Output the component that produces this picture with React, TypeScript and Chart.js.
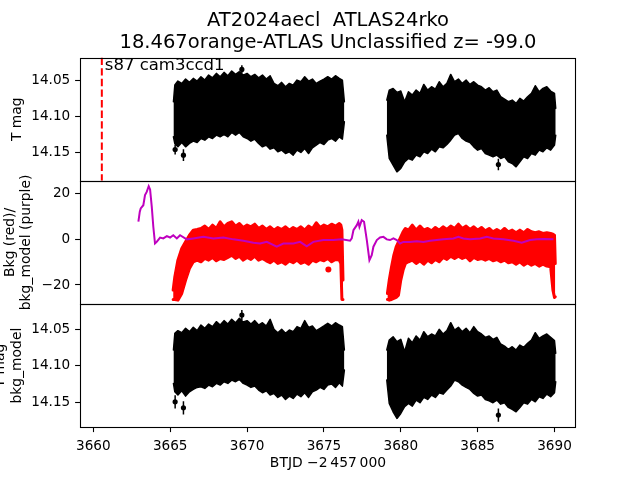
import React, { useEffect, useRef } from 'react';
import { Chart, registerables } from 'chart.js';

Chart.register(...registerables);

// ---------- text ----------
const TITLE_LINES = ['AT2024aecl  ATLAS24rko', '18.467orange-ATLAS Unclassified z= -99.0'];
const ANNOTATION = 's87 cam3ccd1';
const X_LABEL = 'BTJD \u22122\u2009457\u2009000';
const Y1_LABEL = 'T mag';
const Y2_LABEL = ['Bkg (red)/', 'bkg_model (purple)'];
const Y3_LABEL = ['T mag', 'bkg_model'];

// ---------- ticks / ranges ----------
const X_TICKS = [3660, 3665, 3670, 3675, 3680, 3685, 3690];
const MAG_TICKS = [14.05, 14.1, 14.15];
const BKG_TICKS = [20, 0, -20];
const X_RANGE = [3659.13, 3691.4];
const Y1_RANGE = [14.019, 14.189];
const Y2_RANGE = [-28.3, 25.45];
const Y3_RANGE = [14.0153, 14.184];
const SECTOR_START = 3660.55;

// ---------- time grids (BTJD) ----------
const T_ORBIT1 = [3665.21, 3665.3, 3665.5, 3665.75, 3666.0, 3666.25, 3666.5, 3666.75, 3667.0, 3667.25, 3667.5, 3667.75, 3668.0, 3668.25, 3668.5, 3668.75, 3669.0, 3669.25, 3669.5, 3669.75, 3670.0, 3670.25, 3670.5, 3670.75, 3671.0, 3671.25, 3671.5, 3671.75, 3672.0, 3672.25, 3672.5, 3672.75, 3673.0, 3673.25, 3673.5, 3673.75, 3674.0, 3674.25, 3674.5, 3674.75, 3675.0, 3675.25, 3675.5, 3675.75, 3676.0, 3676.2, 3676.33];
const T_ORBIT2 = [3679.09, 3679.25, 3679.5, 3679.75, 3680.0, 3680.25, 3680.5, 3680.75, 3681.0, 3681.25, 3681.5, 3681.75, 3682.0, 3682.25, 3682.5, 3682.75, 3683.0, 3683.25, 3683.5, 3683.75, 3684.0, 3684.25, 3684.5, 3684.75, 3685.0, 3685.25, 3685.5, 3685.75, 3686.0, 3686.25, 3686.5, 3686.75, 3687.0, 3687.25, 3687.5, 3687.75, 3688.0, 3688.25, 3688.5, 3688.75, 3689.0, 3689.25, 3689.5, 3689.75, 3690.0, 3690.08];

// ---------- panel 1: T mag envelope of the error-bar cloud ----------
const MAG1_TOP_O1 = [14.0799, 14.0569, 14.0514, 14.0546, 14.0486, 14.0532, 14.0477, 14.0514, 14.0454, 14.05, 14.0431, 14.0468, 14.0408, 14.0454, 14.0394, 14.044, 14.0376, 14.0422, 14.0385, 14.0431, 14.0408, 14.0454, 14.0422, 14.0468, 14.0431, 14.0486, 14.044, 14.0546, 14.0578, 14.0532, 14.0592, 14.0546, 14.0569, 14.05, 14.0523, 14.0454, 14.0514, 14.0486, 14.0546, 14.0514, 14.0486, 14.0454, 14.0486, 14.044, 14.0477, 14.05, 14.0799];
const MAG1_BOT_O1 = [14.1283, 14.1375, 14.1421, 14.1361, 14.1421, 14.1375, 14.1343, 14.1361, 14.1306, 14.1329, 14.1283, 14.1306, 14.126, 14.1283, 14.125, 14.1283, 14.1223, 14.126, 14.1223, 14.1283, 14.1306, 14.1343, 14.1315, 14.1375, 14.1421, 14.1398, 14.1453, 14.1435, 14.149, 14.1467, 14.1513, 14.149, 14.1536, 14.1467, 14.1499, 14.1444, 14.1513, 14.1435, 14.1398, 14.1361, 14.1389, 14.1329, 14.1306, 14.1343, 14.1283, 14.1315, 14.1076];
const MAG1_TOP_O2 = [14.0776, 14.0638, 14.0615, 14.067, 14.0652, 14.0799, 14.0661, 14.0707, 14.0638, 14.0684, 14.056, 14.0638, 14.0592, 14.0624, 14.0523, 14.0592, 14.0546, 14.0422, 14.0523, 14.0486, 14.0546, 14.05, 14.056, 14.0523, 14.0569, 14.0592, 14.0638, 14.0606, 14.0661, 14.0638, 14.073, 14.0762, 14.0799, 14.0776, 14.0822, 14.0753, 14.079, 14.073, 14.0684, 14.0578, 14.0661, 14.0615, 14.0592, 14.0652, 14.0684, 14.0891];
const MAG1_BOT_O2 = [14.126, 14.1582, 14.1674, 14.1766, 14.172, 14.1628, 14.1582, 14.1605, 14.1536, 14.1559, 14.149, 14.1513, 14.1453, 14.149, 14.1421, 14.1435, 14.1389, 14.1329, 14.126, 14.1237, 14.1306, 14.1343, 14.1361, 14.1421, 14.1467, 14.1444, 14.1513, 14.1536, 14.1559, 14.1536, 14.1582, 14.1559, 14.1628, 14.1651, 14.1697, 14.1628, 14.1559, 14.1582, 14.1513, 14.1536, 14.1467, 14.149, 14.1435, 14.1467, 14.1398, 14.126];
const OUT1_T = [3665.32, 3665.86, 3669.66, 3686.35];
const OUT1_MAG = [14.1458, 14.1536, 14.0353, 14.1665];
const OUT1_ERR = [0.0069, 0.008, 0.0058, 0.008];

// ---------- panel 2: background (red) and background model (purple) ----------
const T_BKG1 = [3665.19, 3665.3, 3665.5, 3665.75, 3666.0, 3666.25, 3666.5, 3666.75, 3667.0, 3667.25, 3667.5, 3667.75, 3668.0, 3668.25, 3668.5, 3668.75, 3669.0, 3669.25, 3669.5, 3669.75, 3670.0, 3670.25, 3670.5, 3670.75, 3671.0, 3671.25, 3671.5, 3671.75, 3672.0, 3672.25, 3672.5, 3672.75, 3673.0, 3673.25, 3673.5, 3673.75, 3674.0, 3674.25, 3674.5, 3674.75, 3675.0, 3675.25, 3675.5, 3675.75, 3676.0, 3676.1, 3676.17, 3676.24];
const BKG_TOP_O1 = [-22.25, -16.43, -9.16, -4.07, -1.16, 1.74, 3.93, 4.22, 4.65, 5.67, 4.22, 6.11, 4.65, 7.56, 5.38, 6.83, 7.56, 5.67, 6.83, 5.09, 6.11, 5.38, 6.54, 4.65, 5.67, 4.22, 5.38, 3.93, 5.09, 4.22, 5.38, 3.93, 5.09, 4.22, 5.38, 3.93, 5.67, 4.65, 7.12, 5.09, 6.11, 5.38, 6.54, 5.67, 6.83, 6.11, 3.93, -17.88];
const BKG_BOT_O1 = [-26.32, -26.32, -26.61, -23.7, -17.88, -12.8, -9.89, -9.16, -9.89, -8.43, -9.16, -8.0, -9.45, -8.43, -8.87, -8.0, -6.98, -8.43, -7.42, -9.16, -8.0, -8.87, -7.42, -9.16, -8.43, -9.45, -10.32, -9.16, -10.61, -9.89, -10.9, -9.45, -10.32, -9.16, -10.61, -9.89, -10.9, -9.16, -9.89, -8.87, -9.45, -8.43, -9.89, -8.87, -9.16, -10.61, -26.32, -26.32];
const T_BKG2 = [3679.13, 3679.25, 3679.4, 3679.55, 3679.7, 3679.85, 3680.0, 3680.15, 3680.3, 3680.5, 3680.75, 3681.0, 3681.25, 3681.5, 3681.75, 3682.0, 3682.25, 3682.5, 3682.75, 3683.0, 3683.25, 3683.5, 3683.75, 3684.0, 3684.25, 3684.5, 3684.75, 3685.0, 3685.25, 3685.5, 3685.75, 3686.0, 3686.25, 3686.5, 3686.75, 3687.0, 3687.25, 3687.5, 3687.75, 3688.0, 3688.25, 3688.5, 3688.75, 3689.0, 3689.25, 3689.5, 3689.75, 3689.9, 3690.0, 3690.05];
const BKG_TOP_O2 = [-23.7, -17.88, -12.07, -6.98, -3.34, -1.16, 1.02, 3.2, 4.65, 3.93, 6.11, 3.93, 5.67, 3.93, 4.65, 3.64, 5.09, 3.93, 5.38, 4.22, 5.67, 4.65, 6.54, 4.65, 5.67, 4.22, 5.38, 3.93, 5.09, 3.64, 4.65, 3.2, 4.22, 3.2, 4.65, 3.2, 3.93, 2.76, 3.93, 2.76, 4.22, 3.2, 2.76, 3.2, 2.47, 2.76, 2.47, 2.18, 1.74, -10.61];
const BKG_BOT_O2 = [-26.32, -26.61, -26.32, -25.88, -25.45, -24.43, -17.88, -13.52, -10.61, -9.89, -9.16, -10.61, -9.45, -10.9, -9.16, -10.32, -8.87, -9.89, -8.0, -8.87, -7.42, -8.43, -7.42, -8.43, -7.71, -9.45, -8.0, -8.87, -8.43, -9.16, -8.43, -9.45, -8.87, -9.89, -9.16, -10.32, -9.89, -10.9, -9.89, -11.34, -10.32, -11.34, -10.61, -11.78, -10.9, -11.78, -12.07, -22.25, -25.45, -25.15];
const BKG_OUT_T = [3675.29];
const BKG_OUT_V = [-13.2];
const MODEL_T = [3662.93, 3663.02, 3663.08, 3663.25, 3663.36, 3663.47, 3663.6, 3663.69, 3663.8, 3663.9, 3664.01, 3664.12, 3664.34, 3664.55, 3664.78, 3664.99, 3665.2, 3665.43, 3665.64, 3666.08, 3666.5, 3667.16, 3667.81, 3668.46, 3669.11, 3669.76, 3670.41, 3670.85, 3671.28, 3671.93, 3672.36, 3673.01, 3673.45, 3673.88, 3674.31, 3674.96, 3675.61, 3676.16, 3676.7, 3676.81, 3676.92, 3677.14, 3677.24, 3677.31, 3677.46, 3677.61, 3677.79, 3677.96, 3678.11, 3678.22, 3678.44, 3678.65, 3678.87, 3679.09, 3679.3, 3679.52, 3679.74, 3679.95, 3680.17, 3680.6, 3681.04, 3681.47, 3681.91, 3682.34, 3682.77, 3683.42, 3683.75, 3684.07, 3684.51, 3685.16, 3685.6, 3686.02, 3686.68, 3687.33, 3687.87, 3688.41, 3688.85, 3689.28, 3689.93];
const MODEL_V = [7.6, 12.0, 13.4, 14.8, 19.2, 20.6, 23.1, 21.7, 14.1, 5.4, -1.9, -1.2, 0.7, 0.3, 1.3, 0.7, 1.7, 0.3, 1.7, -0.1, 0.3, 1.0, 0.3, 0.7, -0.1, -0.7, -1.6, -1.9, -1.2, -3.3, -1.9, -1.9, -1.2, -3.1, -1.2, -0.4, -0.4, -0.1, -0.7, 0.3, 3.9, 6.1, 7.6, 5.4, 8.3, 7.6, -0.4, -9.2, -7.0, -3.3, -0.4, 0.7, 1.0, -0.1, -0.4, 0.3, -0.4, -1.9, -1.2, -1.2, -0.9, -1.2, -0.7, -0.4, -0.1, 0.3, 1.0, 0.3, -0.1, 0.3, 1.0, 0.3, -0.1, -0.7, -1.6, -0.4, -0.1, 0.1, -0.1];

// ---------- panel 3: T mag - bkg_model envelope ----------
const MAG3_TOP_O1 = [14.0783, 14.0555, 14.0518, 14.0546, 14.0486, 14.0532, 14.0473, 14.0518, 14.0441, 14.0486, 14.0427, 14.0463, 14.0395, 14.0441, 14.0381, 14.0427, 14.0363, 14.0409, 14.0349, 14.0399, 14.0381, 14.0427, 14.0381, 14.0441, 14.0409, 14.0454, 14.0363, 14.05, 14.0546, 14.05, 14.0555, 14.0509, 14.0532, 14.0463, 14.0486, 14.0381, 14.0473, 14.0454, 14.0518, 14.0486, 14.0454, 14.0418, 14.0454, 14.0409, 14.0441, 14.0463, 14.0783];
const MAG3_BOT_O1 = [14.124, 14.1355, 14.14, 14.1341, 14.1414, 14.1355, 14.1323, 14.1295, 14.1286, 14.1309, 14.1263, 14.1286, 14.124, 14.1263, 14.1217, 14.124, 14.1195, 14.1217, 14.1186, 14.124, 14.1263, 14.1295, 14.1277, 14.1332, 14.1368, 14.1341, 14.14, 14.1377, 14.1432, 14.14, 14.146, 14.1414, 14.1446, 14.1387, 14.1423, 14.1368, 14.1432, 14.1355, 14.1332, 14.1295, 14.1323, 14.1263, 14.1249, 14.1295, 14.1231, 14.1277, 14.1058];
const MAG3_TOP_O2 = [14.0783, 14.0646, 14.0601, 14.0669, 14.0637, 14.0806, 14.0623, 14.0683, 14.0591, 14.0646, 14.0532, 14.0601, 14.0564, 14.0591, 14.05, 14.0564, 14.0518, 14.0409, 14.0509, 14.0473, 14.0532, 14.0486, 14.0546, 14.0463, 14.0532, 14.0564, 14.061, 14.0591, 14.0637, 14.061, 14.0701, 14.0729, 14.0774, 14.0738, 14.0783, 14.0715, 14.0747, 14.0692, 14.0646, 14.0546, 14.0623, 14.0591, 14.0564, 14.061, 14.0655, 14.0829];
const MAG3_BOT_O2 = [14.1195, 14.1515, 14.1629, 14.172, 14.1652, 14.156, 14.1515, 14.1551, 14.1469, 14.1505, 14.1432, 14.146, 14.14, 14.1432, 14.1368, 14.1387, 14.1332, 14.1277, 14.1195, 14.1217, 14.1263, 14.1295, 14.1323, 14.1377, 14.1414, 14.14, 14.146, 14.1478, 14.1505, 14.1469, 14.1524, 14.1505, 14.1569, 14.1597, 14.1629, 14.1569, 14.1505, 14.1524, 14.146, 14.1492, 14.1423, 14.1446, 14.1387, 14.1423, 14.1368, 14.1217];
const OUT3_T = [3665.32, 3665.86, 3669.66, 3686.35];
const OUT3_MAG = [14.1492, 14.1574, 14.0304, 14.1674];
const OUT3_ERR = [0.0091, 0.0091, 0.0069, 0.0091];

// ---------- helpers ----------
const FONT = "'DejaVu Sans', sans-serif";
Chart.defaults.font.family = FONT;
Chart.defaults.color = '#000';

const pts = (ts: number[], vs: number[]) => ts.map((t, i) => ({ x: t, y: vs[i] }));
const errSegs = (ts: number[], ms: number[], es: number[]) =>
  ts.flatMap((t, i) => [
    { x: t, y: ms[i] - es[i] },
    { x: t, y: ms[i] + es[i] },
    { x: t, y: null as any },
  ]);

const band = (ts: number[], top: number[], bot: number[], color: string, width: number, order: number) => [
  {
    data: pts(ts, top), borderColor: color, backgroundColor: color, borderWidth: width,
    pointRadius: 0, fill: '+1', order, borderJoinStyle: 'round', borderCapStyle: 'round', tension: 0,
  },
  {
    data: pts(ts, bot), borderColor: color, backgroundColor: color, borderWidth: width,
    pointRadius: 0, fill: false, order, borderJoinStyle: 'round', borderCapStyle: 'round', tension: 0,
  },
];

const px = (v: number) => Math.round(v) + 0.5;

const framePlugin = {
  id: 'frame',
  afterDatasetsDraw(chart: any) {
    const { ctx, chartArea: a } = chart;
    const l = px(a.left);
    const t = px(a.top);
    const r = px(a.right) - 1;
    const b = px(a.bottom);
    ctx.save();
    ctx.strokeStyle = '#000';
    ctx.lineWidth = 1.1;
    ctx.strokeRect(l, t, r - l, b - t);
    ctx.restore();
  },
};

const annotationPlugin = {
  id: 'annot',
  afterDatasetsDraw(chart: any) {
    const { ctx, chartArea: a, scales } = chart;
    const x = scales.x.getPixelForValue(SECTOR_START) + 3;
    ctx.save();
    ctx.fillStyle = '#000';
    ctx.font = `16.5px ${FONT}`;
    ctx.textBaseline = 'alphabetic';
    ctx.textAlign = 'left';
    ctx.fillText(ANNOTATION, x, a.top + 12.6);
    ctx.restore();
  },
};

const TICK_FONT = { size: 13.6, family: FONT };
const LABEL_FONT = { size: 13.9, family: FONT };

const yScale = (range: number[], ticks: number[], fmt: (v: number) => string, reverse: boolean, title: any) => ({
  type: 'linear',
  reverse,
  min: range[0],
  max: range[1],
  afterFit: (s: any) => { s.width = 80; },
  afterBuildTicks: (s: any) => { s.ticks = ticks.map((v) => ({ value: v })); },
  ticks: { callback: (v: any) => fmt(Number(v)), padding: 4.9, font: TICK_FONT, color: '#000' },
  grid: { drawOnChartArea: false, tickLength: 4.9, color: '#000', tickWidth: 1.1 },
  border: { display: false },
  title,
});

const hiddenX = { type: 'linear', min: X_RANGE[0], max: X_RANGE[1], display: false };

const baseOptions = (padding: any) => ({
  responsive: false,
  animation: false,
  events: [],
  layout: { padding },
  plugins: { legend: { display: false }, tooltip: { enabled: false } },
});

function config1(): any {
  return {
    type: 'line',
    data: {
      datasets: [
        {
          data: [{ x: SECTOR_START, y: Y1_RANGE[0] }, { x: SECTOR_START, y: Y1_RANGE[1] }],
          borderColor: '#ff0000', borderWidth: 2, borderDash: [7.4, 3.2], pointRadius: 0, order: 0,
        },
        { data: pts(OUT1_T, OUT1_MAG), showLine: false, pointRadius: 2.6, pointBackgroundColor: '#000', pointBorderColor: '#000', pointBorderWidth: 0, order: 1 },
        { data: errSegs(OUT1_T, OUT1_MAG, OUT1_ERR), borderColor: '#000', borderWidth: 1.5, pointRadius: 0, spanGaps: false, order: 1 },
        ...band(T_ORBIT1, MAG1_TOP_O1, MAG1_BOT_O1, '#000', 1.5, 3),
        ...band(T_ORBIT2, MAG1_TOP_O2, MAG1_BOT_O2, '#000', 1.5, 3),
      ],
    },
    options: {
      ...baseOptions({ left: 0, right: 64, top: 0, bottom: 299.2 }),
      plugins: {
        legend: { display: false },
        tooltip: { enabled: false },
        title: {
          display: true,
          fullSize: false,
          text: TITLE_LINES,
          color: '#000',
          font: { size: 19.5, weight: 'normal', family: FONT, lineHeight: '22px' },
          padding: { top: 9.7, bottom: 3.9 },
        },
      },
      scales: {
        x: hiddenX,
        y: yScale(Y1_RANGE, MAG_TICKS, (v) => v.toFixed(2), true, {
          display: true, text: Y1_LABEL, font: LABEL_FONT, color: '#000', padding: { top: 8.7, bottom: 0 },
        }),
      },
    },
    plugins: [framePlugin, annotationPlugin],
  };
}

const fmtSigned = (v: number) => (v < 0 ? '\u2212' + Math.abs(v) : String(v));

function config2(): any {
  return {
    type: 'line',
    data: {
      datasets: [
        { data: pts(MODEL_T, MODEL_V), borderColor: '#bf00bf', borderWidth: 2, pointRadius: 0, order: 0, tension: 0 },
        { data: pts(BKG_OUT_T, BKG_OUT_V), showLine: false, pointRadius: 3, pointBackgroundColor: '#ff0000', pointBorderWidth: 0, order: 1 },
        ...band(T_BKG1, BKG_TOP_O1, BKG_BOT_O1, '#ff0000', 3, 2),
        ...band(T_BKG2, BKG_TOP_O2, BKG_BOT_O2, '#ff0000', 3, 2),
      ],
    },
    options: {
      ...baseOptions({ left: 0, right: 64, top: 180.8, bottom: 176 }),
      scales: {
        x: hiddenX,
        y: yScale(Y2_RANGE, BKG_TICKS, fmtSigned, false, {
          display: true, text: Y2_LABEL, font: LABEL_FONT, color: '#000', padding: { top: 1.7, bottom: 0 },
        }),
      },
    },
    plugins: [framePlugin],
  };
}

function config3(): any {
  return {
    type: 'line',
    data: {
      datasets: [
        { data: pts(OUT3_T, OUT3_MAG), showLine: false, pointRadius: 2.6, pointBackgroundColor: '#000', pointBorderWidth: 0, order: 1 },
        { data: errSegs(OUT3_T, OUT3_MAG, OUT3_ERR), borderColor: '#000', borderWidth: 1.5, pointRadius: 0, spanGaps: false, order: 1 },
        ...band(T_ORBIT1, MAG3_TOP_O1, MAG3_BOT_O1, '#000', 1.5, 3),
        ...band(T_ORBIT2, MAG3_TOP_O2, MAG3_BOT_O2, '#000', 1.5, 3),
      ],
    },
    options: {
      ...baseOptions({ left: 0, right: 64, top: 304, bottom: 0 }),
      scales: {
        x: {
          type: 'linear',
          position: 'bottom',
          min: X_RANGE[0],
          max: X_RANGE[1],
          afterFit: (s: any) => { s.height = 52.8; },
          afterBuildTicks: (s: any) => { s.ticks = X_TICKS.map((v) => ({ value: v })); },
          ticks: { callback: (v: any) => String(v), padding: 6, font: TICK_FONT, color: '#000', maxRotation: 0, autoSkip: false },
          grid: { drawOnChartArea: false, tickLength: 4.9, color: '#000', tickWidth: 1.1 },
          border: { display: false },
          title: { display: true, text: X_LABEL, font: LABEL_FONT, color: '#000', padding: { top: 0, bottom: 8.4 } },
        },
        y: yScale(Y3_RANGE, MAG_TICKS, (v) => v.toFixed(2), true, {
          display: true, text: Y3_LABEL, font: LABEL_FONT, color: '#000', padding: { top: -7.8, bottom: 0 },
        }),
      },
    },
    plugins: [framePlugin],
  };
}

export default function App() {
  const r1 = useRef<HTMLCanvasElement>(null);
  const r2 = useRef<HTMLCanvasElement>(null);
  const r3 = useRef<HTMLCanvasElement>(null);

  useEffect(() => {
    const charts = [
      new Chart(r1.current as HTMLCanvasElement, config1()),
      new Chart(r2.current as HTMLCanvasElement, config2()),
      new Chart(r3.current as HTMLCanvasElement, config3()),
    ];
    return () => charts.forEach((c) => c.destroy());
  }, []);

  const cs: React.CSSProperties = { position: 'absolute', left: 0, top: 0, width: 640, height: 480 };
  return (
    <div style={{ position: 'absolute', left: 0, top: 0, width: 640, height: 480, background: '#fff', overflow: 'hidden' }}>
      <canvas ref={r1} width={640} height={480} style={cs} />
      <canvas ref={r2} width={640} height={480} style={cs} />
      <canvas ref={r3} width={640} height={480} style={cs} />
    </div>
  );
}
